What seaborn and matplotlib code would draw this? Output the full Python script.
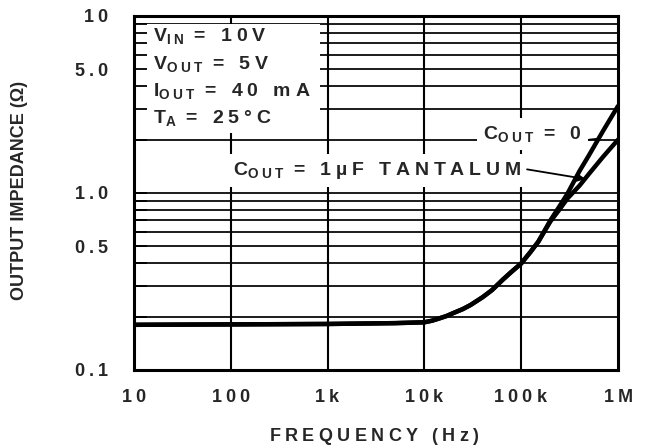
import matplotlib
matplotlib.use("Agg")
import matplotlib.pyplot as plt
from matplotlib.patches import Rectangle
import seaborn as sns
import pandas as pd

# ---- data ----
freq_hz = [10, 100, 1000, 5000, 10000, 12000, 14000, 17000, 20000, 25000, 30000,
           40000, 50000, 65000, 80000, 100000, 125000, 150000, 200000, 250000,
           300000, 400000, 500000, 700000, 1000000]
z_tantalum = [0.180, 0.181, 0.182, 0.184, 0.186, 0.190, 0.195, 0.202, 0.210, 0.221, 0.233,
              0.258, 0.283, 0.325, 0.360, 0.40, 0.465, 0.53, 0.69, 0.81,
              0.93, 1.10, 1.28, 1.60, 2.00]
z_cout0 = [0.180, 0.181, 0.182, 0.184, 0.186, 0.190, 0.195, 0.202, 0.210, 0.221, 0.233,
           0.258, 0.283, 0.325, 0.360, 0.40, 0.465, 0.53, 0.70, 0.845,
           0.99, 1.33, 1.63, 2.24, 3.10]

x_ticks = [10, 100, 1000, 10000, 100000, 1000000]
x_ticklabels = ["10", "100", "1k", "10k", "100k", "1M"]
y_ticks = [0.1, 0.5, 1.0, 5.0, 10]
y_ticklabels = ["0.1", "0.5", "1.0", "5.0", "10"]
y_minor = [0.2, 0.3, 0.4, 0.6, 0.7, 0.8, 0.9, 2, 3, 4, 6, 7, 8, 9]
y_grid = [0.2, 0.3, 0.4, 0.5, 0.6, 0.7, 0.8, 0.9, 1, 2, 3, 4, 5, 6, 7, 8, 9]
x_grid = [100, 1000, 10000, 100000]

sns.set_style("white")
plt.rcParams["font.family"] = ["Liberation Sans", "DejaVu Sans"]
plt.rcParams["font.weight"] = "bold"
plt.rcParams["mathtext.fontset"] = "custom"
for k in ("rm", "it", "bf", "sf"):
    plt.rcParams["mathtext." + k] = "Liberation Sans:bold"
plt.rcParams["mathtext.default"] = "rm"


def sp(s, gap=r"$\;$"):
    return gap.join(s)


def sub(s):
    return "$_{" + r"\;".join(s) + "}$"


fig = plt.figure(figsize=(6.51, 4.46), dpi=100)
ax = fig.add_axes([134 / 651, 1 - 370 / 446, 484 / 651, 354 / 446])
ax.set_xscale("log")
ax.set_yscale("log")
ax.set_xlim(10, 1e6)
ax.set_ylim(0.1, 10)

for yv in y_grid:
    ax.axhline(yv, color="black", lw=1.25, zorder=1)
for xv in x_grid:
    ax.axvline(xv, color="black", lw=1.5, zorder=1)

# white area behind the condition block
ax.add_patch(Rectangle((0, 0.669), 0.384, 0.307, transform=ax.transAxes,
                       facecolor="white", edgecolor="none", zorder=2))

df = pd.DataFrame({"f": freq_hz, "t": z_tantalum, "c": z_cout0})
sns.lineplot(data=df, x="f", y="c", ax=ax, color="black", lw=3.2, zorder=3)
sns.lineplot(data=df, x="f", y="t", ax=ax, color="black", lw=3.2, zorder=3)

ax.set_axisbelow(False)
ax.set_xticks(x_ticks)
ax.set_xticklabels([sp(s) for s in x_ticklabels])
ax.xaxis.set_minor_locator(matplotlib.ticker.NullLocator())
ax.set_yticks(y_ticks)
ax.set_yticklabels([sp(s) for s in y_ticklabels])
ax.set_yticks(y_minor, minor=True)
ax.yaxis.set_minor_formatter(matplotlib.ticker.NullFormatter())
ax.tick_params(axis="x", which="both", bottom=True, length=0, pad=14, labelsize=13)
ax.tick_params(axis="y", which="both", left=True, direction="in", length=9, width=1.3,
               color="black", pad=18, labelsize=13)
ax.set_xlabel("")
ax.set_ylabel("")
for s in ax.spines.values():
    s.set_color("black")
    s.set_linewidth(2.2)
    s.set_visible(True)

fs = 14
cond = [
    ("V" + sub("IN") + sp(" = 10V"), 0.929),
    ("V" + sub("OUT") + sp(" = 5V"), 0.850),
    ("I" + sub("OUT") + sp(" = 40 mA"), 0.774),
    ("T" + sub("A") + sp(" = 25°C"), 0.698),
]
for txt, yb in cond:
    ax.text(0.039, yb, txt, transform=ax.transAxes, fontsize=fs,
            ha="left", va="baseline", zorder=4)

bb = dict(boxstyle="square,pad=0.3", fc="white", ec="none")
ax.text(0.2045, 0.551, "C" + sub("OUT") + sp(" = 1µF TANTALUM"), transform=ax.transAxes,
        fontsize=fs, ha="left", va="baseline", zorder=2.8, bbox=bb)
ax.text(0.721, 0.6525, "C" + sub("OUT") + sp(" = 0"), transform=ax.transAxes,
        fontsize=fs, ha="left", va="baseline", zorder=2.8, bbox=bb)

ax.annotate("", xy=(4.6e5, 1.2), xytext=(1.15e5, 1.36),
            arrowprops=dict(arrowstyle="-|>", color="black", lw=1.3,
                            mutation_scale=12, shrinkA=0, shrinkB=0), zorder=4)
ax.annotate("", xy=(6.4e5, 2.03), xytext=(5.0e5, 2.0),
            arrowprops=dict(arrowstyle="-", color="black", lw=1.3,
                            shrinkA=0, shrinkB=0), zorder=4)

fig.text(20 / 651, 1 - 190 / 446, "OUTPUT IMPEDANCE (Ω)", rotation=90,
         ha="center", va="center", fontsize=13)
fig.text(374 / 651, 1 - 441 / 446, sp("FREQUENCY (Hz)"), ha="center",
         va="baseline", fontsize=13)

fig.savefig("out.png", dpi=100)
